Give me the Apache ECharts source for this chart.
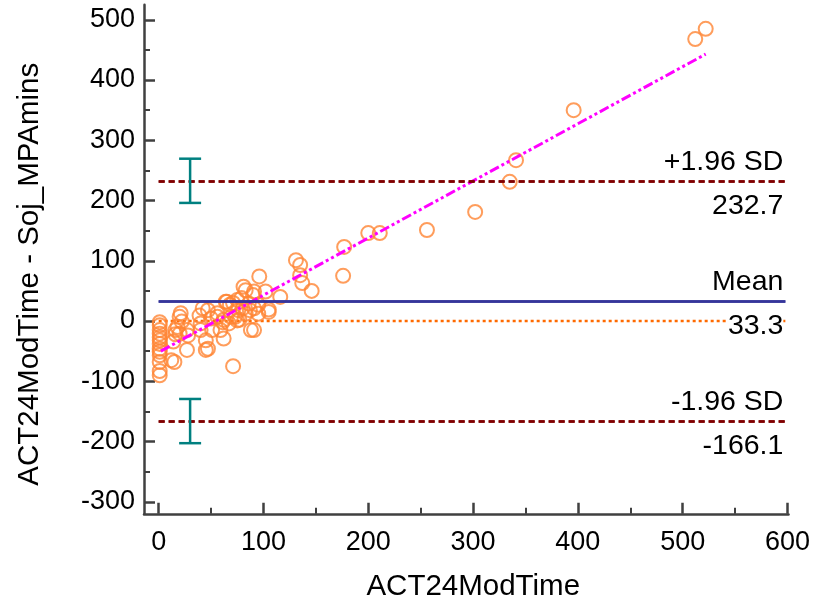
<!DOCTYPE html>
<html>
<head>
<meta charset="utf-8">
<script src="https://cdn.jsdelivr.net/npm/echarts@6/dist/echarts.min.js"></script>
<style>
  html, body { margin: 0; padding: 0; background: #fff; }
  #chart { width: 816px; height: 603px; }
</style>
</head>
<body>
<div id="chart"></div>
<script>
// Bland-Altman style plot: difference against ACT24ModTime

// Observations: x = ACT24ModTime, y = ACT24ModTime - Soj_MPAmins
const obsX = [
  522, 512, 396, 341, 335, 302, 256, 211, 200, 177,
  176, 146, 137, 135, 135, 131, 116, 105, 102, 96,
  91, 91, 86, 83, 81, 76, 75, 95, 105, 83,
  73, 75, 88, 91, 71, 64, 68, 56, 47, 42,
  21, 20, 18, 20, 28, 39, 40, 40, 45, 47,
  50, 56, 61, 69, 62, 59, 51, 67, 27, 27,
  16, 16, 14, 12, 15, 22, 45, 80, 87, 95,
  71, 65, 62, 77, 90, 79,
  1, 1, 1, 1, 1, 1, 1, 1, 1, 1, 1, 1, 1
];
const obsY = [
  485, 468, 350, 267, 231, 181, 151, 146, 146, 123,
  75, 50, 63, 76, 93, 101, 40, 19, 49, 74,
  49, 21, 29, 51, 57, 18, 35, 12, 15, 12,
  7, 1, -15, -15, -75, 32, 27, 13, 18, 21,
  13, 7, -10, -21, -24, 9, -4, -15, -32, -46,
  4, 7, -2, 7, -29, -15, -15, -4, -15, -48,
  -15, -22, -34, -65, -68, -1, -48, 21, 18, 27,
  30, 32, 2, 2, 43, 38,
  -2, -7, -15, -21, -27, -32, -38, -46, -51, -57, -68, -83, -90
];

// Limits of agreement and mean difference
const limitNames = ['+1.96 SD', 'Mean', '-1.96 SD'];
const limitValues = [232.7, 33.3, -166.1];
const limitSpan = [0, 598];          // x extent of the horizontal lines
const zeroLine = [[0, 0], [598, 0]]; // line of zero difference

// Regression of differences on x (end points)
const regX = [2, 522];
const regY = [-50, 443];

// Confidence intervals of the two limits of agreement, drawn at ciX
const ciX = 30;
const ciUpper = [196.0, 269.4];
const ciLower = [-202.8, -129.4];

// Axis ticks
const xMajor = [0, 100, 200, 300, 400, 500, 600];
const xMinor = [50, 150, 250, 350, 450, 550];
const yMajor = [-300, -200, -100, 0, 100, 200, 300, 400, 500];
const yMinor = [-250, -150, -50, 50, 150, 250, 350, 450];

const FONT = 'Liberation Sans, Arial, sans-serif';
const FS = 27;        // tick labels
const FS_NAME = 29.5; // axis titles
const FS_LIM = 28.5;  // limit labels
const AXIS_COLOR = '#404040';
const PT_COLOR = '#FF8533';
const SD_COLOR = '#800000';
const MEAN_COLOR = '#35359A';

const chart = echarts.init(document.getElementById('chart'));

const scatterData = obsX.map((x, i) => [x, obsY[i]]);
const regData = regX.map((x, i) => [x, regY[i]]);

const limitLine = (i) => ({
  color: i === 1 ? MEAN_COLOR : SD_COLOR,
  width: 2.5,
  type: i === 1 ? 'solid' : [6, 4]
});

const markData = [];
limitValues.forEach((v, i) => {
  markData.push([
    {
      coord: [limitSpan[0], v],
      lineStyle: limitLine(i),
      label: { show: true, position: 'insideEndTop', formatter: limitNames[i], distance: [2, 4] }
    },
    { coord: [limitSpan[1], v] }
  ]);
  markData.push([
    {
      coord: [limitSpan[0], v],
      lineStyle: limitLine(i),
      label: {
        show: true, position: 'insideEndBottom', formatter: v.toFixed(1),
        distance: [2, 11], backgroundColor: '#fff'
      }
    },
    { coord: [limitSpan[1], v] }
  ]);
});

const ciData = [
  [ciX, ciUpper[0], ciUpper[1]],
  [ciX, ciLower[0], ciLower[1]]
];

function axisCommon(extra) {
  return Object.assign({
    type: 'value',
    splitLine: { show: false },
    axisLine: { show: true, onZero: false, lineStyle: { color: AXIS_COLOR, width: 2.5 } },
    axisLabel: { color: '#000', fontFamily: FONT, fontSize: FS },
    nameTextStyle: { color: '#000', fontFamily: FONT, fontSize: FS_NAME }
  }, extra);
}

chart.setOption({
  animation: false,
  backgroundColor: '#fff',
  grid: { left: 144, right: 27.5, top: 4.7, bottom: 89.2, containLabel: false, outerBoundsMode: 'none' },
  xAxis: [
    axisCommon({
      min: -14, max: 601, position: 'bottom',
      name: 'ACT24ModTime', nameLocation: 'middle', nameGap: 58,
      nameTextStyle: { color: '#000', fontFamily: FONT, fontSize: FS_NAME, padding: [0, 0, 0, 14] },
      axisTick: { show: true, inside: true, length: 11, customValues: xMajor,
        lineStyle: { color: AXIS_COLOR, width: 2.5 } },
      axisLabel: { color: '#000', fontFamily: FONT, fontSize: FS, margin: 15, customValues: xMajor }
    }),
    axisCommon({
      min: -14, max: 601, position: 'bottom',
      axisLine: { show: false, onZero: false },
      axisTick: { show: true, inside: true, length: 6, customValues: xMinor,
        lineStyle: { color: AXIS_COLOR, width: 2 } },
      axisLabel: { show: false }
    })
  ],
  yAxis: [
    axisCommon({
      min: -320, max: 525, position: 'left',
      name: 'ACT24ModTime - Soj_MPAmins', nameLocation: 'middle', nameGap: 99,
      nameTextStyle: { color: '#000', fontFamily: FONT, fontSize: FS_NAME, padding: [0, 30, 0, 0] },
      axisTick: { show: true, inside: true, length: 11, customValues: yMajor,
        lineStyle: { color: AXIS_COLOR, width: 2.5 } },
      axisLabel: { color: '#000', fontFamily: FONT, fontSize: FS, margin: 9, customValues: yMajor }
    }),
    axisCommon({
      min: -320, max: 525, position: 'left',
      axisLine: { show: false, onZero: false },
      axisTick: { show: true, inside: true, length: 6, customValues: yMinor,
        lineStyle: { color: AXIS_COLOR, width: 2 } },
      axisLabel: { show: false }
    })
  ],
  series: [
    {
      // line of zero difference
      type: 'line', data: zeroLine, symbol: 'none', z: 1,
      lineStyle: { color: '#FF6A00', width: 2.5, type: [3, 3] }
    },
    {
      // mean and limits of agreement with labels
      type: 'line', data: [], symbol: 'none', z: 2,
      markLine: {
        silent: true, symbol: ['none', 'none'], animation: false,
        label: { color: '#000', fontFamily: FONT, fontSize: FS_LIM },
        data: markData
      }
    },
    {
      type: 'scatter', data: scatterData, symbol: 'circle', symbolSize: 14, z: 3,
      itemStyle: { color: 'rgba(0,0,0,0)', borderColor: PT_COLOR, borderWidth: 2 }
    },
    {
      // regression line
      type: 'line', data: regData, symbol: 'none', z: 4,
      lineStyle: { color: '#FF00FF', width: 3, type: [10, 3, 3, 3, 3, 3] }
    },
    {
      // confidence intervals of the limits of agreement
      type: 'custom', z: 5, data: ciData,
      renderItem: function (params, api) {
        const x = api.value(0);
        const lo = api.coord([x, api.value(1)]);
        const hi = api.coord([x, api.value(2)]);
        const half = 11;
        const style = { stroke: '#008080', lineWidth: 2.5 };
        return {
          type: 'group',
          children: [
            { type: 'line', shape: { x1: lo[0], y1: lo[1], x2: hi[0], y2: hi[1] }, style },
            { type: 'line', shape: { x1: lo[0] - half, y1: lo[1], x2: lo[0] + half, y2: lo[1] }, style },
            { type: 'line', shape: { x1: hi[0] - half, y1: hi[1], x2: hi[0] + half, y2: hi[1] }, style }
          ]
        };
      }
    }
  ]
});
</script>
</body>
</html>
